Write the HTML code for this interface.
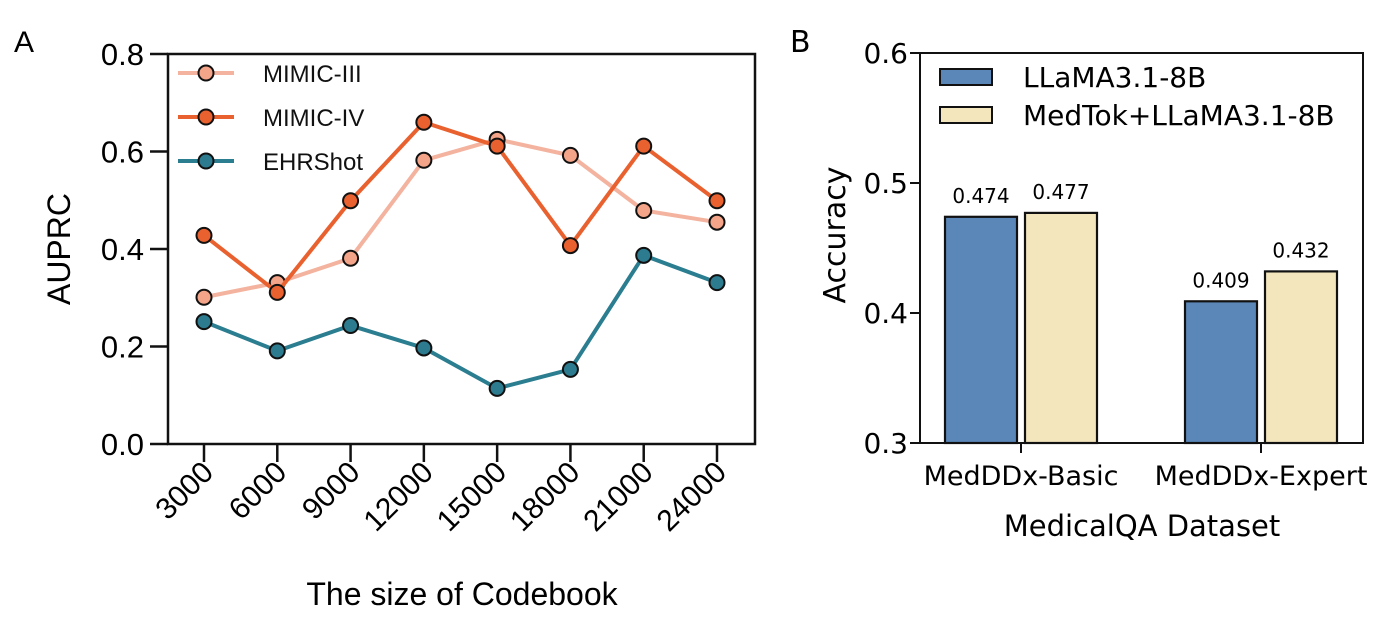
<!DOCTYPE html>
<html><head><meta charset="utf-8"><style>
body{margin:0;background:#fff;}
svg text{font-family:"Liberation Sans","DejaVu Sans",sans-serif;}
.b text{font-family:"DejaVu Sans","Liberation Sans",sans-serif;}
</style></head><body>
<svg id="chart" width="1378" height="625" viewBox="0 0 1378 625" xmlns="http://www.w3.org/2000/svg">
<g id="pa"></g>
<g id="pb" class="b"></g>
</svg>
<script>
const codebookSizes=["3000","6000","9000","12000","15000","18000","21000","24000"];
const mimic3=[0.301,0.331,0.381,0.582,0.625,0.592,0.479,0.455];
const mimic4=[0.428,0.311,0.499,0.660,0.611,0.407,0.611,0.499];
const ehrshot=[0.251,0.191,0.243,0.197,0.114,0.153,0.387,0.331];
const aTicks=[0,0.2,0.4,0.6,0.8];
const datasets=["MedDDx-Basic","MedDDx-Expert"];
const llama=[0.474,0.409];
const medtok=[0.477,0.432];
const bTicks=[0.3,0.4,0.5,0.6];

const NS="http://www.w3.org/2000/svg";
function mk(p,tag,at,txt){const e=document.createElementNS(NS,tag);for(const k in at)e.setAttribute(k,at[k]);if(txt!=null)e.textContent=txt;p.appendChild(e);return e;}
const pa=document.getElementById('pa'), pb=document.getElementById('pb');

// Panel A
const ax={l:168,r:755,t:54,b:444};
const xA=i=>204+i*(717-204)/(codebookSizes.length-1);
const yA=v=>ax.b-(v/0.8)*(ax.b-ax.t);
let t=mk(pa,'text',{x:14,y:52,'font-size':30},'A');


let fr=mk(pa,'rect',{x:ax.l,y:ax.t,width:ax.r-ax.l,height:ax.b-ax.t,fill:'none',stroke:'#111','stroke-width':2.5});


aTicks.forEach(v=>{
 mk(pa,'line',{x1:ax.l-18,x2:ax.l,y1:yA(v),y2:yA(v),stroke:'#111','stroke-width':2.5});
 const e=mk(pa,'text',{x:ax.l-24,y:yA(v)+11,'font-size':31,'text-anchor':'end'},v.toFixed(1));
 
 
});
codebookSizes.forEach((c,i)=>{
 mk(pa,'line',{x1:xA(i),x2:xA(i),y1:ax.b,y2:ax.b+18,stroke:'#111','stroke-width':2.5});
 const e=mk(pa,'text',{x:xA(i)+11,y:ax.b+30,'font-size':30,'text-anchor':'end',transform:`rotate(-45 ${xA(i)+11} ${ax.b+30})`},c);
 
 
});
t=mk(pa,'text',{x:462,y:605,'font-size':32,'text-anchor':'middle'},'The size of Codebook');


t=mk(pa,'text',{x:70,y:249,'font-size':32,'text-anchor':'middle',transform:'rotate(-90 70 249)'},'AUPRC');


const series=[
 {name:'mimic-iii',label:'MIMIC-III',d:mimic3,line:'#f3b39f',fill:'#f4a488'},
 {name:'mimic-iv',label:'MIMIC-IV',d:mimic4,line:'#e9612f',fill:'#e9612f'},
 {name:'ehrshot',label:'EHRShot',d:ehrshot,line:'#2b7d90',fill:'#2c7b8e'}];
series.forEach(s=>{
 const g=mk(pa,'g',{});
 
 
 const ln=mk(g,'polyline',{points:s.d.map((v,i)=>xA(i)+','+yA(v)).join(' '),fill:'none',stroke:s.line,'stroke-width':4});
 
 
 s.d.forEach((v,i)=>{
  const c=mk(g,'circle',{cx:xA(i),cy:yA(v),r:7.5,fill:s.fill,stroke:'#111','stroke-width':2});
  
  
 });
});
series.forEach((s,k)=>{
 const y=73+k*44;
 const g=mk(pa,'g',{});
 
 
 mk(g,'line',{x1:178,x2:234,y1:y,y2:y,stroke:s.line,'stroke-width':4});
 mk(g,'circle',{cx:206,cy:y,r:7.5,fill:s.fill,stroke:'#111','stroke-width':2});
 mk(g,'text',{x:263,y:y+9,'font-size':24,fill:'#111'},s.label);
});

// Panel B
const bx={l:920,r:1363,t:53,b:443};
const yB=v=>bx.b-(v-0.3)/0.3*(bx.b-bx.t);
const cB=[1021,1261];
t=mk(pb,'text',{x:790,y:52,'font-size':30},'B');


bTicks.forEach(v=>{
 mk(pb,'line',{x1:bx.l-10,x2:bx.l,y1:yB(v),y2:yB(v),stroke:'#111','stroke-width':2});
 const e=mk(pb,'text',{x:bx.l-12,y:yB(v)+10,'font-size':28,'text-anchor':'end'},v.toFixed(1));
 
 
});
datasets.forEach((d,i)=>{
 [[llama,'#5b87b8','llama'],[medtok,'#f3e6bd','medtok']].forEach((s,j)=>{
  const x=cB[i]+(j?4:-76), v=s[0][i];
  const r=mk(pb,'rect',{x:x,y:yB(v),width:72,height:bx.b-yB(v),fill:s[1],stroke:'#111','stroke-width':2.2});
  
  
  const e=mk(pb,'text',{x:x+36,y:yB(v)-14,'font-size':20,'text-anchor':'middle'},v.toFixed(3));
  
  
 });
 mk(pb,'line',{x1:cB[i],x2:cB[i],y1:bx.b,y2:bx.b+10,stroke:'#111','stroke-width':2});
 const e=mk(pb,'text',{x:cB[i],y:bx.b+42,'font-size':27,'text-anchor':'middle'},d);
 
 
});
fr=mk(pb,'rect',{x:bx.l,y:bx.t,width:bx.r-bx.l,height:bx.b-bx.t,fill:'none',stroke:'#111','stroke-width':2});


t=mk(pb,'text',{x:1142,y:536,'font-size':29,'text-anchor':'middle'},'MedicalQA Dataset');


t=mk(pb,'text',{x:845,y:235,'font-size':30,'text-anchor':'middle',transform:'rotate(-90 845 235)'},'Accuracy');


[['LLaMA3.1-8B','#5b87b8'],['MedTok+LLaMA3.1-8B','#f3e6bd']].forEach((l,k)=>{
 const y=69+k*38;
 const g=mk(pb,'g',{});
 
 
 mk(g,'rect',{x:940,y:y,width:52,height:16,fill:l[1],stroke:'#111','stroke-width':2});
 mk(g,'text',{x:1023,y:y+18,'font-size':28},l[0]);
});
</script>
</body></html>
